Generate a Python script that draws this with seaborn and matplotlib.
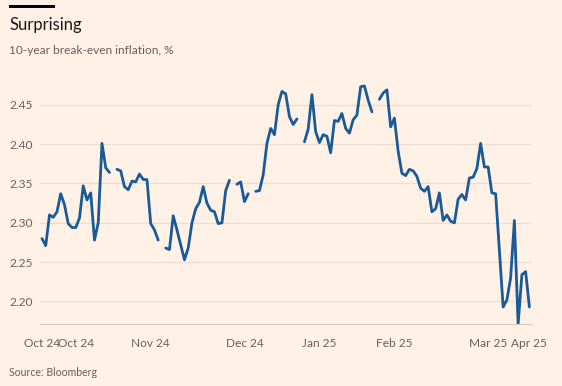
import numpy as np
import pandas as pd
import matplotlib
matplotlib.use("Agg")
import matplotlib.pyplot as plt
import seaborn as sns
from matplotlib.patches import Rectangle

nan = np.nan
values = [
    2.280, 2.271, 2.310, 2.307, 2.314, 2.337, 2.323, 2.299, 2.294, 2.294,
    2.306, 2.347, 2.329, 2.338, 2.278, 2.300, 2.401, 2.370, 2.364, nan,
    2.368, 2.366, 2.346, 2.342, 2.353, 2.352, 2.362, 2.355, 2.355, 2.299,
    2.291, 2.278, nan, 2.268, 2.266, 2.309, 2.291, 2.272, 2.253, 2.268,
    2.300, 2.318, 2.326, 2.346, 2.325, 2.316, 2.314, 2.299, 2.300, 2.341,
    2.354, nan, 2.349, 2.352, 2.327, 2.337, nan, 2.340, 2.341, 2.361,
    2.401, 2.420, 2.412, 2.450, 2.467, 2.464, 2.435, 2.425, 2.432, nan,
    2.403, 2.419, 2.463, 2.416, 2.402, 2.412, 2.410, 2.389, 2.430, 2.429,
    2.439, 2.420, 2.414, 2.431, 2.437, 2.473, 2.474, 2.456, 2.441, nan,
    2.457, 2.465, 2.469, 2.422, 2.433, 2.391, 2.363, 2.360, 2.368, 2.366,
    2.359, 2.344, 2.340, 2.346, 2.314, 2.318, 2.338, 2.303, 2.310, 2.302,
    2.300, 2.330, 2.336, 2.329, 2.357, 2.358, 2.369, 2.401, 2.371, 2.371,
    2.338, 2.337, 2.265, 2.193, 2.202, 2.230, 2.303, 2.171, 2.234, 2.238,
    2.193,
]
day_index = list(range(len(values)))

y_ticks = [2.20, 2.25, 2.30, 2.35, 2.40, 2.45]
y_tick_labels = ["2.20", "2.25", "2.30", "2.35", "2.40", "2.45"]

x_minor_ticks = [0] + list(range(4, 130, 5)) + [130]
x_label_pos = [0, 9, 29, 54, 74, 94, 119, 130]
x_labels = ["Oct 24", "Oct 24", "Nov 24", "Dec 24", "Jan 25", "Feb 25", "Mar 25", "Apr 25"]

title = "Surprising"
subtitle = "10-year break-even inflation, %"
source = "Source: Bloomberg"

BG = "#FFF1E5"
LINE = "#1A5A96"
GRID = "#EADDD1"
TEXT_GREY = "#66605C"

df = pd.DataFrame({"day": day_index, "value": values})
df["seg"] = df["value"].isna().cumsum()
df = df.dropna()

sns.set_theme(style="white")
plt.rcParams["font.family"] = ["Lato", "DejaVu Sans"]

fig = plt.figure(figsize=(5.62, 3.86), dpi=100, facecolor=BG)
ax = fig.add_axes([40 / 562, 61.7 / 386, 492 / 562, 242.3 / 386])
ax.set_facecolor(BG)

sns.lineplot(data=df, x="day", y="value", units="seg", estimator=None,
             color=LINE, linewidth=2.0, ax=ax, legend=False)

ax.set_xlim(-0.53, 130.7)
ax.set_ylim(2.171, 2.479)

ax.set_yticks(y_ticks)
ax.set_yticklabels(y_tick_labels)
ax.yaxis.grid(True, color=GRID, linewidth=0.9)
ax.tick_params(axis="y", length=0, pad=5, labelsize=8.6, labelcolor=TEXT_GREY)

ax.set_xticks(x_minor_ticks, minor=True)
ax.set_xticks(x_label_pos)
ax.set_xticklabels(x_labels)
ax.tick_params(axis="x", which="both", direction="out", length=5.5, width=0.7,
               color="#D4C9BE", pad=4.5, labelsize=8.6, labelcolor=TEXT_GREY)

for s in ["top", "right", "left"]:
    ax.spines[s].set_visible(False)
ax.spines["bottom"].set_color("#D4C9BE")
ax.spines["bottom"].set_linewidth(0.8)
ax.set_xlabel("")
ax.set_ylabel("")

fig.add_artist(Rectangle((9 / 562, 1 - 8.2 / 386), 46 / 562, 2.8 / 386,
                         transform=fig.transFigure, color="black", linewidth=0))
fig.text(9 / 562, 1 - 25 / 386, title, fontsize=12, color="#1A1817",
         va="center", ha="left")
fig.text(9 / 562, 1 - 50 / 386, subtitle, fontsize=8.6, color=TEXT_GREY,
         va="center", ha="left")
fig.text(9 / 562, 1 - 372.7 / 386, source, fontsize=7.6, color=TEXT_GREY,
         va="center", ha="left")

fig.savefig("out.png", dpi=100, facecolor=BG)
